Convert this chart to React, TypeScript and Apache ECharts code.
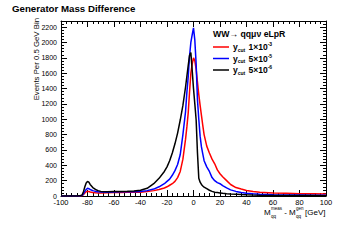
import React, { useEffect, useRef } from "react";
import * as echarts from "echarts";

// Bin centres (GeV) used to sample the histograms
const massDiff = [-100, -88, -86, -84, -83, -82, -81, -80, -79, -78, -76, -74, -72, -70, -65, -60, -55, -50, -45, -40, -35, -30, -26, -22, -20, -18, -16, -14, -12, -10, -8, -6, -5, -4, -3, -2, -1, 0, 1, 2, 3, 4, 5, 6, 7, 8, 10, 12, 14, 16, 18, 20, 22, 25, 28, 32, 36, 40, 45, 50, 60, 70, 80, 90, 100];

// y_cut 1x10^-3 (red)
const ycut1e3 = [0, 0, 0, 5, 20, 40, 55, 60, 58, 52, 45, 42, 40, 40, 42, 45, 47, 48, 48, 50, 58, 70, 85, 105, 120, 140, 160, 190, 240, 320, 480, 740, 900, 1080, 1350, 1600, 1720, 1800, 1760, 1650, 1480, 1320, 1180, 1050, 920, 800, 650, 560, 480, 420, 340, 290, 250, 200, 150, 110, 90, 72, 60, 50, 40, 35, 30, 28, 25];

// y_cut 5x10^-5 (blue)
const ycut5e5 = [0, 0, 1, 8, 30, 60, 85, 100, 95, 85, 70, 60, 55, 52, 50, 52, 55, 55, 55, 58, 70, 90, 120, 160, 190, 220, 270, 330, 410, 540, 800, 1100, 1350, 1550, 1820, 2000, 2100, 2190, 2030, 1720, 1250, 1000, 780, 640, 550, 460, 380, 320, 240, 200, 175, 160, 135, 105, 80, 60, 45, 35, 28, 22, 16, 14, 12, 10, 10];

// y_cut 5x10^-6 (black)
const ycut5e6 = [0, 0, 2, 15, 60, 120, 170, 190, 180, 150, 110, 85, 70, 60, 55, 58, 60, 62, 65, 75, 100, 160, 230, 320, 380, 460, 560, 680, 820, 990, 1180, 1420, 1560, 1700, 1830, 1870, 1640, 1400, 1200, 990, 560, 230, 180, 150, 130, 115, 95, 75, 60, 50, 45, 40, 35, 30, 26, 22, 18, 15, 12, 10, 8, 6, 5, 5, 4];

const xMin = -100;
const xMax = 100;
const xInterval = 20;
const yMin = 0;
const yMax = 2280;
const yInterval = 200;

const FONT = "'Liberation Sans', Arial, Helvetica, sans-serif";

export default function App() {
  const ref = useRef<HTMLDivElement>(null);

  useEffect(() => {
    if (!ref.current) return;
    const chart = echarts.init(ref.current, undefined, { renderer: "svg" });

    const mk = (ys: number[]) => massDiff.map((x, i) => [x, ys[i]]);

    const axisCommon = {
      axisLine: { show: true, onZero: false, lineStyle: { color: "#000", width: 1 } },
      axisTick: { show: true, inside: true, length: 6, lineStyle: { color: "#000", width: 1 } },
      minorTick: { show: true, splitNumber: 5, length: 3, lineStyle: { color: "#000", width: 1 } },
      splitLine: { show: false },
    };

    const legendRich = {
      y: { fontSize: 8.5, fontWeight: "bold", fontFamily: FONT, color: "#000", verticalAlign: "middle" },
      sub: { fontSize: 5, fontWeight: "bold", fontFamily: FONT, color: "#000", padding: [5, 0, 0, 0], verticalAlign: "middle" },
      n: { fontSize: 8.5, fontWeight: "bold", fontFamily: FONT, color: "#000", verticalAlign: "middle" },
      sup: { fontSize: 5, fontWeight: "bold", fontFamily: FONT, color: "#000", padding: [0, 0, 6, 0], verticalAlign: "middle" },
    };

    const entries = [
      { color: "#ff0000", exp: "-3", mant: "1×10", y: 47 },
      { color: "#0000ff", exp: "-5", mant: "5×10", y: 58.5 },
      { color: "#000000", exp: "-6", mant: "5×10", y: 70 },
    ];

    const legendGraphics: any[] = [];
    entries.forEach((e) => {
      legendGraphics.push({
        type: "line",
        shape: { x1: 213, y1: e.y, x2: 229, y2: e.y },
        style: { stroke: e.color, lineWidth: 1.5 },
      });
      legendGraphics.push({
        type: "text",
        x: 233,
        y: e.y,
        style: {
          text: `{y|y}{sub|cut} {n|${e.mant}}{sup|${e.exp}}`,
          rich: legendRich,
          textAlign: "left",
          textVerticalAlign: "middle",
          align: "left",
          verticalAlign: "middle",
        },
      });
    });

    const txt = (x: number, y: number, text: string, size: number, extra: any = {}) => ({
      type: "text",
      x,
      y,
      style: {
        text,
        fontSize: size,
        fontFamily: FONT,
        fill: "#000",
        textAlign: "left",
        textVerticalAlign: "middle",
        align: "left",
        verticalAlign: "middle",
        ...extra,
      },
    });

    chart.setOption({
      animation: false,
      backgroundColor: "#fff",
      grid: { left: 61, right: 29, top: 21, bottom: 44 },
      xAxis: [
        {
          type: "value",
          min: xMin,
          max: xMax,
          interval: xInterval,
          position: "bottom",
          ...axisCommon,
          axisLabel: { show: true, fontSize: 7.5, fontFamily: FONT, color: "#000", margin: 2 },
        },
        {
          type: "value",
          min: xMin,
          max: xMax,
          interval: xInterval,
          position: "top",
          ...axisCommon,
          axisLabel: { show: false },
        },
      ],
      yAxis: [
        {
          type: "value",
          min: yMin,
          max: yMax,
          interval: yInterval,
          position: "left",
          ...axisCommon,
          axisLabel: {
            show: true,
            fontSize: 7,
            fontFamily: FONT,
            color: "#000",
            margin: 4,
            showMaxLabel: false,
            formatter: (v: number) => (v % 200 === 0 ? String(v) : ""),
          },
        },
        {
          type: "value",
          min: yMin,
          max: yMax,
          interval: yInterval,
          position: "right",
          ...axisCommon,
          axisLabel: { show: false },
        },
      ],
      series: [
        {
          type: "line",
          name: "1e-3",
          data: mk(ycut1e3),
          showSymbol: false,
          lineStyle: { color: "#ff0000", width: 1.5 },
          itemStyle: { color: "#ff0000" },
          z: 2,
        },
        {
          type: "line",
          name: "5e-5",
          data: mk(ycut5e5),
          showSymbol: false,
          lineStyle: { color: "#0000ff", width: 1.5 },
          itemStyle: { color: "#0000ff" },
          z: 3,
        },
        {
          type: "line",
          name: "5e-6",
          data: mk(ycut5e6),
          showSymbol: false,
          lineStyle: { color: "#000000", width: 1.5 },
          itemStyle: { color: "#000000" },
          z: 4,
        },
      ],
      graphic: [
        txt(12, 8, "Generator Mass Difference", 9.7, { fontWeight: "bold" }),
        {
          type: "text",
          x: 36,
          y: 18,
          rotation: Math.PI / 2,
          style: {
            text: "Events Per 0.5 GeV Bin",
            fontSize: 7.8,
            fontFamily: FONT,
            fill: "#000",
            textAlign: "right",
            textVerticalAlign: "middle",
            align: "right",
            verticalAlign: "middle",
          },
        },
        txt(213, 34, "WW→ qqμν eLpR", 8.7, { fontWeight: "bold" }),
        ...legendGraphics,
        // x axis title
        txt(264, 212.5, "M", 8),
        txt(271, 208, "meas", 4.5),
        txt(271, 216, "qq", 4.5),
        txt(282, 212.5, " - M", 8),
        txt(296, 208, "gen", 4.5),
        txt(296, 216, "qq", 4.5),
        txt(305, 212.5, "[GeV]", 8),
      ],
    });

    return () => chart.dispose();
  }, []);

  return (
    <div
      ref={ref}
      style={{ position: "fixed", left: 0, top: 0, width: 355, height: 240, background: "#fff" }}
    />
  );
}
